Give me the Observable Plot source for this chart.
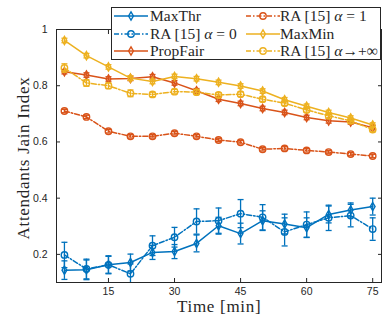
<!DOCTYPE html>
<html>
<head>
<meta charset="utf-8">
<script src="https://cdn.jsdelivr.net/npm/d3@7"></script>
<script src="https://cdn.jsdelivr.net/npm/@observablehq/plot@0.6"></script>
<style>
  html, body { margin: 0; padding: 0; background: #fff; }
  #wrap { position: relative; width: 382px; height: 320px; }
  #legend { position: absolute; left: 111px; top: 7px; width: 270px; height: 53px;
    border: 1px solid #262626; background: #fff; box-sizing: border-box; }
  .lab { position: absolute; font-family: 'Liberation Serif', serif; font-size: 17px; letter-spacing: 0.7px; color: #262626; white-space: nowrap; line-height: 20px; }
</style>
</head>
<body>
<div id="wrap"><div id="chart"></div><div id="legend"></div>
  <div class="lab" id="xlab">Time [min]</div>
  <div class="lab" id="ylab">Attendants Jain Index</div>
</div>
<script>
const time = [5, 10, 15, 20, 25, 30, 35, 40, 45, 50, 55, 60, 65, 70, 75];

const maxThr    = [0.144, 0.145, 0.163, 0.171, 0.207, 0.210, 0.239, 0.302, 0.274, 0.320, 0.308, 0.295, 0.342, 0.358, 0.370];
const maxThrErr = [0.033, 0.035, 0.032, 0.030, 0.025, 0.025, 0.030, 0.030, 0.037, 0.035, 0.035, 0.035, 0.030, 0.025, 0.030];
const ra0       = [0.198, 0.148, 0.163, 0.131, 0.231, 0.261, 0.317, 0.320, 0.345, 0.332, 0.280, 0.306, 0.330, 0.338, 0.290];
const ra0Err    = [0.045, 0.035, 0.030, 0.035, 0.035, 0.035, 0.045, 0.045, 0.050, 0.045, 0.050, 0.045, 0.045, 0.040, 0.040];
const propFair    = [0.850, 0.838, 0.824, 0.826, 0.832, 0.810, 0.782, 0.752, 0.737, 0.719, 0.705, 0.687, 0.675, 0.671, 0.651];
const propFairErr = [0.008, 0.008, 0.008, 0.008, 0.008, 0.008, 0.008, 0.008, 0.008, 0.008, 0.008, 0.008, 0.008, 0.008, 0.008];
const ra1       = [0.710, 0.689, 0.638, 0.620, 0.620, 0.631, 0.620, 0.607, 0.599, 0.574, 0.577, 0.570, 0.564, 0.557, 0.550];
const ra1Err    = [0.006, 0.006, 0.006, 0.006, 0.006, 0.006, 0.006, 0.006, 0.006, 0.006, 0.006, 0.006, 0.006, 0.006, 0.006];
const maxMin    = [0.961, 0.907, 0.867, 0.827, 0.815, 0.833, 0.825, 0.812, 0.799, 0.781, 0.750, 0.727, 0.705, 0.685, 0.660];
const maxMinErr = [0.008, 0.008, 0.008, 0.008, 0.008, 0.008, 0.008, 0.008, 0.008, 0.008, 0.008, 0.008, 0.008, 0.008, 0.008];
const raInf     = [0.863, 0.810, 0.800, 0.773, 0.769, 0.779, 0.777, 0.767, 0.770, 0.752, 0.738, 0.714, 0.693, 0.675, 0.644];
const raInfErr  = [0.015, 0.012, 0.010, 0.012, 0.008, 0.008, 0.008, 0.008, 0.008, 0.008, 0.008, 0.008, 0.008, 0.008, 0.008];

const xTicks = [15, 30, 45, 60, 75];
const yTicks = [0.2, 0.4, 0.6, 0.8, 1];
const yTickLabels = ["0.2", "0.4", "0.6", "0.8", "1"];

const BLUE = "#0072BD", ORANGE = "#D95319", YELLOW = "#EDB120";
const DASHDOT = "5,2,1.5,2";

const series = [
  {name: "MaxThr", html: "MaxThr", v: maxThr, e: maxThrErr, color: BLUE, dash: null, sym: "diamond"},
  {name: "RA0", html: "RA [15] <i>α</i> = 0", v: ra0, e: ra0Err, color: BLUE, dash: DASHDOT, sym: "circle"},
  {name: "PropFair", html: "PropFair", v: propFair, e: propFairErr, color: ORANGE, dash: null, sym: "diamond"},
  {name: "RA1", html: "RA [15] <i>α</i> = 1", v: ra1, e: ra1Err, color: ORANGE, dash: DASHDOT, sym: "circle"},
  {name: "MaxMin", html: "MaxMin", v: maxMin, e: maxMinErr, color: YELLOW, dash: null, sym: "diamond"},
  {name: "RAinf", html: "RA [15] <i>α</i>→+∞", v: raInf, e: raInfErr, color: YELLOW, dash: DASHDOT, sym: "circle"}
];

const capSymbol = {
  draw(context, size) {
    const w = Math.sqrt(size / Math.PI);
    context.moveTo(-w, 0);
    context.lineTo(w, 0);
  }
};

const marks = [];
for (const s of series) {
  const rows = time.map((t, i) => ({t, v: s.v[i], e: s.e[i]}));
  marks.push(
    Plot.ruleX(rows, {x: "t", y1: d => d.v - d.e, y2: d => d.v + d.e, stroke: s.color, strokeWidth: 1.3, clip: true}),
    Plot.dot(rows, {x: "t", y: d => d.v - d.e, symbol: capSymbol, r: 3, stroke: s.color, strokeWidth: 1.3, clip: true}),
    Plot.dot(rows, {x: "t", y: d => d.v + d.e, symbol: capSymbol, r: 3, stroke: s.color, strokeWidth: 1.3, clip: true}),
    Plot.line(rows, {x: "t", y: "v", stroke: s.color, strokeWidth: 1.5, strokeDasharray: s.dash, clip: true}),
    Plot.dot(rows, {x: "t", y: "v", symbol: s.sym, r: s.sym === "circle" ? 3.2 : 2.5, stroke: s.color, fill: "none", strokeWidth: 1.4, clip: true})
  );
}

const chart = Plot.plot({
  width: 382,
  height: 320,
  marginLeft: 56,
  marginRight: 1,
  marginTop: 29,
  marginBottom: 38,
  style: {fontFamily: "'Liberation Sans', Arial, sans-serif", fontSize: "10.5px", color: "#262626", background: "#fff"},
  x: {domain: [3.2, 77]},
  y: {domain: [0.1, 1]},
  marks: [
    ...marks,
    Plot.frame({stroke: "#262626", strokeWidth: 1}),
    Plot.axisX({anchor: "bottom", ticks: xTicks, tickSize: -4, tickPadding: 9, label: null, stroke: "#262626", fill: "#262626"}),
    Plot.axisX({anchor: "top", ticks: xTicks, tickSize: -4, tickFormat: () => "", label: null, stroke: "#262626"}),
    Plot.axisY({anchor: "left", ticks: yTicks, tickSize: -4, tickPadding: 13, tickFormat: d => yTickLabels[yTicks.indexOf(d)], label: null, stroke: "#262626", fill: "#262626"}),
    Plot.axisY({anchor: "right", ticks: yTicks, tickSize: -4, tickFormat: () => "", label: null, stroke: "#262626"})
  ]
});
document.getElementById("chart").appendChild(chart);

// axis labels
const xl = document.getElementById("xlab");
xl.style.left = (219 - xl.offsetWidth / 2) + "px";
xl.style.top = "297px";
const yl = document.getElementById("ylab");
yl.style.left = (24 - yl.offsetWidth / 2) + "px";
yl.style.top = (158 - yl.offsetHeight / 2) + "px";
yl.style.transform = "rotate(-90deg)";

// Legend
const legend = d3.select("#legend");
const cols = [{sx: 2, tx: 38}, {sx: 134, tx: 168}];
const rowsY = [8, 26, 43];
const lsvg = legend.append("svg").attr("width", 268).attr("height", 51)
  .style("position", "absolute").style("left", "0px").style("top", "0px");
series.forEach((s, i) => {
  const col = cols[i < 3 ? 0 : 1];
  const y = rowsY[i % 3];
  const g = lsvg.append("g");
  g.append("line").attr("x1", col.sx).attr("x2", col.sx + 34).attr("y1", y).attr("y2", y)
    .attr("stroke", s.color).attr("stroke-width", 1.5).attr("stroke-dasharray", s.dash);
  const sym = s.sym === "circle" ? d3.symbolCircle : d3.symbolDiamond;
  const r = s.sym === "circle" ? 3.2 : 2.5;
  g.append("path").attr("d", d3.symbol(sym, Math.PI * r * r)())
    .attr("transform", `translate(${col.sx + 17},${y})`)
    .attr("fill", "none").attr("stroke", s.color).attr("stroke-width", 1.4);
  legend.append("div").html(s.html)
    .style("position", "absolute").style("left", col.tx + "px").style("top", (y - 10) + "px")
    .style("font-family", "'Liberation Serif', serif").style("font-size", "15.5px")
    .style("line-height", "20px").style("color", "#262626").style("white-space", "nowrap");
});
</script>
</body>
</html>
